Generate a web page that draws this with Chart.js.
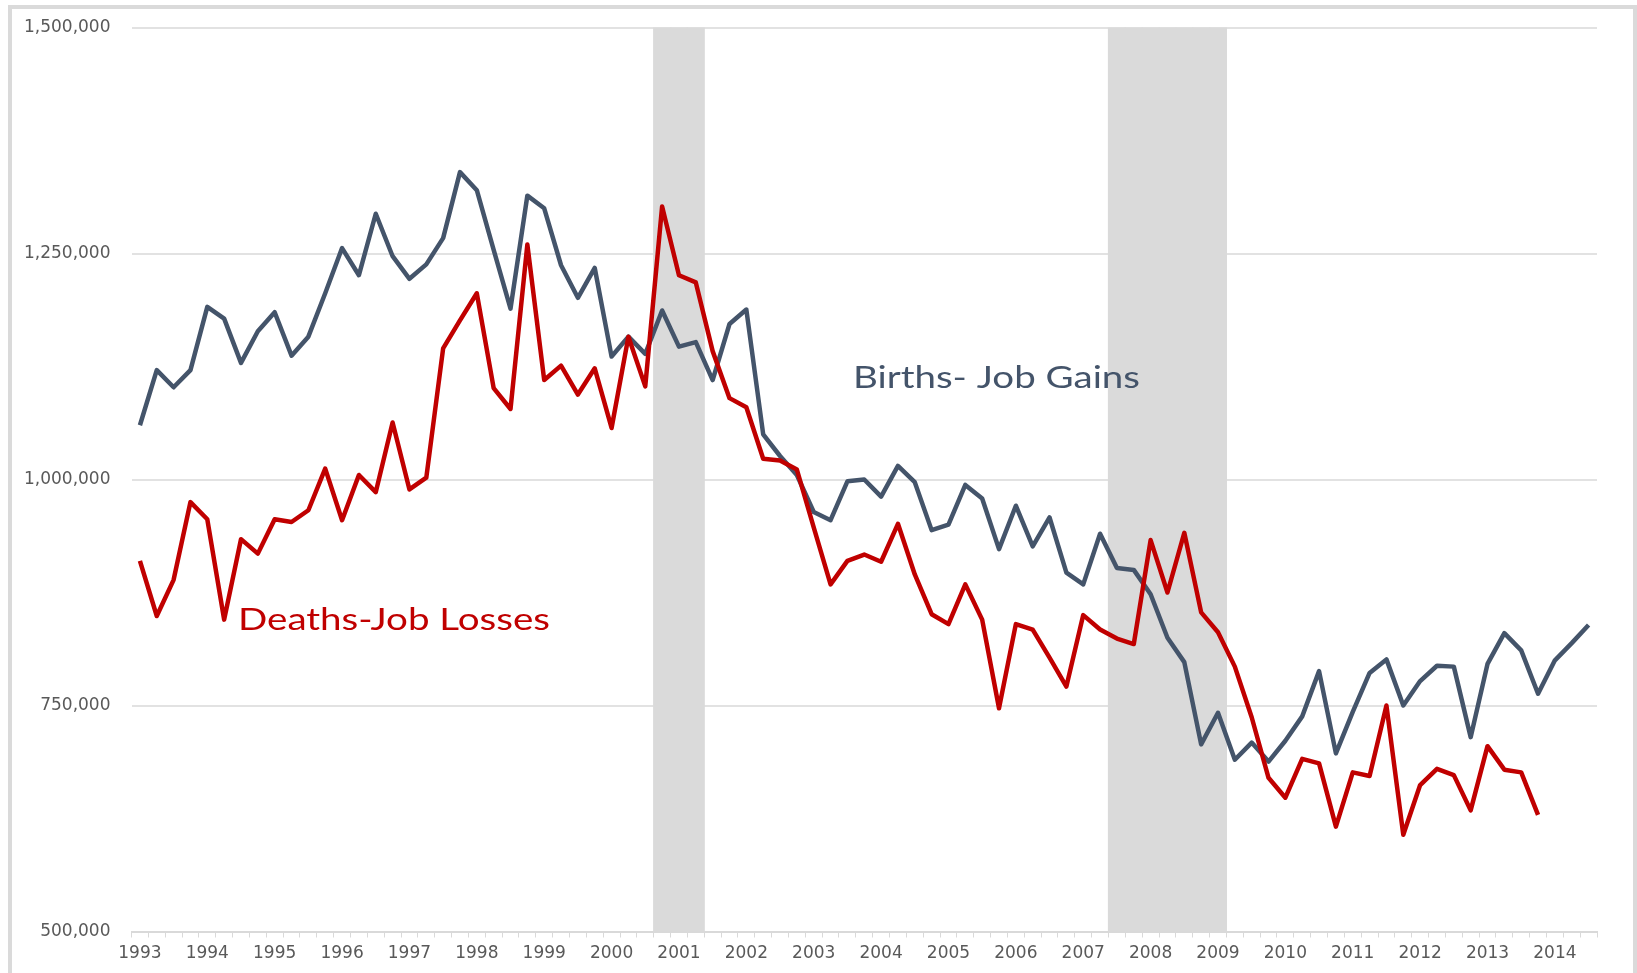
<!DOCTYPE html>
<html>
<head>
<meta charset="utf-8">
<script src="https://cdn.jsdelivr.net/npm/chart.js@4/dist/chart.umd.min.js"></script>
<style>
  html, body { margin:0; padding:0; background:#fff; overflow:hidden; width:1637px; height:973px; }
  #frame { position:absolute; left:8px; top:5px; width:1621px; height:975px; border:4px solid #dadada; background:#fff; }
  canvas { display:block; }
</style>
</head>
<body>
<div id="frame"><canvas id="c" width="1621" height="964"></canvas></div>
<script>
// quarterly establishment births / deaths (job gains & losses), 1993 Q1 onward
const YEARS = [1993,1994,1995,1996,1997,1998,1999,2000,2001,2002,2003,
               2004,2005,2006,2007,2008,2009,2010,2011,2012,2013,2014];
const LAST_QUARTER = "2014 Q3";

const BIRTHS = [
  1060000,1121000,1102000,1121000, 1191000,1178000,1129000,1164000,
  1185000,1137000,1158000,1206000, 1256000,1226000,1294000,1247000,
  1222000,1238000,1267000,1340000, 1320000,1254000,1189000,1314000,
  1300000,1237000,1201000,1234000, 1136000,1158000,1139000,1187000,
  1147000,1152000,1110000,1172000, 1188000,1050000,1026000,1005000,
  964000,955000,998000,1000000,    981000,1015000,997000,944000,
  950000,994000,979000,923000,     971000,926000,958000,897000,
  884000,940000,902000,900000,     873000,825000,798000,707000,
  742000,690000,709000,688000,     711000,738000,788000,697000,
  743000,786000,801000,750000,     777000,794000,793000,715000,
  796000,830000,811000,763000,     800000,819000,839000
];

const DEATHS = [
  910000,849000,889000,975000,     956000,845000,934000,918000,
  956000,953000,966000,1012000,    955000,1005000,986000,1063000,
  989000,1002000,1145000,1176000,  1206000,1101000,1078000,1260000,
  1110000,1126000,1094000,1123000, 1057000,1158000,1103000,1302000,
  1226000,1218000,1142000,1090000, 1080000,1023000,1021000,1011000,
  947000,884000,910000,917000,     909000,951000,895000,851000,
  840000,884000,845000,747000,     840000,834000,803000,771000,
  850000,834000,824000,818000,     933000,875000,941000,853000,
  831000,793000,737000,670000,     648000,691000,686000,616000,
  676000,672000,750000,607000,     662000,680000,673000,634000,
  705000,679000,676000,629000
];

// shaded recession quarters
const RECESSION = ["2000 Q4","2001 Q1","2001 Q2",
                   "2007 Q3","2007 Q4","2008 Q1","2008 Q2","2008 Q3","2008 Q4","2009 Q1"];

const Y_MIN = 500000, Y_MAX = 1500000, Y_STEP = 250000;

const QUARTERS = [];
for (const y of YEARS) for (let q = 1; q <= 4; q++) QUARTERS.push(`${y} Q${q}`);
QUARTERS.length = QUARTERS.indexOf(LAST_QUARTER) + 1;

const bands = QUARTERS.map(q => RECESSION.includes(q) ? Y_MAX : null);

// in-chart series labels
const NOTES = [
  { text:"Births- Job Gains", color:"#44546A", x:841, y:379, width:287 },
  { text:"Deaths-Job Losses", color:"#C00000", x:226, y:621, width:312 },
];

const notesPlugin = {
  id:"notes",
  afterDatasetsDraw(chart){
    const ctx = chart.ctx;
    NOTES.forEach(n => {
      ctx.save();
      ctx.font = "31px Lato";
      ctx.fillStyle = n.color;
      ctx.textBaseline = "alphabetic";
      const w = ctx.measureText(n.text).width;
      ctx.translate(n.x, n.y);
      ctx.scale(n.width / w, 1);
      ctx.fillText(n.text, 0, 0);
      ctx.restore();
    });
  }
};

const tickFont = { family:"DejaVu Sans", size:17 };

new Chart(document.getElementById("c"), {
  data:{
    labels: QUARTERS,
    datasets:[
      { type:"line", label:"Deaths-Job Losses", data:DEATHS, borderColor:"#C00000", borderWidth:4.5,
        pointRadius:0, tension:0, borderJoinStyle:"round", order:1 },
      { type:"line", label:"Births- Job Gains", data:BIRTHS, borderColor:"#44546A", borderWidth:4.5,
        pointRadius:0, tension:0, borderJoinStyle:"round", order:2 },
      { type:"bar", label:"Recession", data:bands, backgroundColor:"#dadada", borderWidth:0,
        categoryPercentage:1, barPercentage:1, inflateAmount:0.6, order:3 },
    ],
  },
  options:{
    responsive:false, animation:false,
    layout:{ padding:{ top:18.5, right:36, bottom:0, left:0 } },
    plugins:{ legend:{ display:false }, tooltip:{ enabled:false } },
    scales:{
      x:{
        offset:true,
        grid:{ offset:true, drawOnChartArea:false, color:"#d9d9d9", tickLength:6, lineWidth:1 },
        border:{ color:"#d9d9d9", width:2 },
        ticks:{ autoSkip:false, maxRotation:0, padding:6, color:"#595959", font:tickFont,
          callback:(v, i) => i % 4 === 0 ? QUARTERS[i].slice(0, 4) : "" },
        afterFit: s => { s.height = 41.5; },
      },
      y:{
        min:Y_MIN, max:Y_MAX,
        grid:{ color:"#e2e2e2", lineWidth:2, drawTicks:false },
        border:{ display:false },
        ticks:{ stepSize:Y_STEP, padding:21, color:"#595959", font:tickFont,
          callback: v => v.toLocaleString("en-US") },
        afterFit: s => { s.width = 119.5; s.paddingTop = 0; s.paddingBottom = 0; },
      },
    },
  },
  plugins:[notesPlugin],
});
</script>
</body>
</html>
